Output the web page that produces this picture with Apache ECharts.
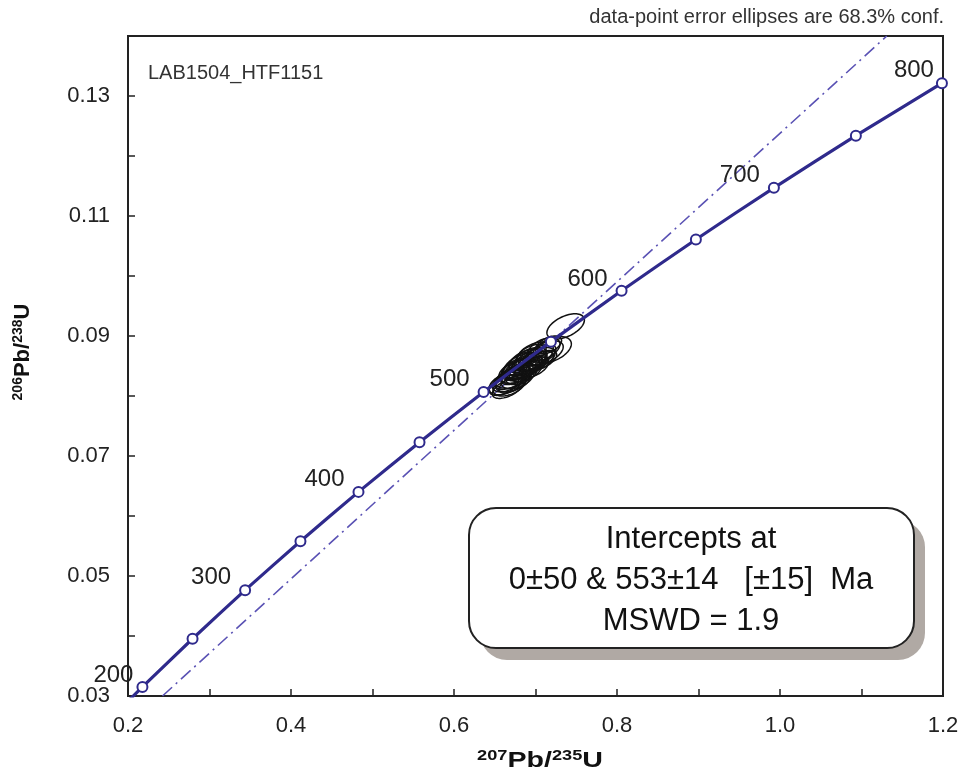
<!DOCTYPE html>
<html>
<head>
<meta charset="utf-8">
<script src="https://cdn.jsdelivr.net/npm/echarts@6/dist/echarts.min.js"></script>
<style>html,body{margin:0;padding:0;background:#fff;}#c{width:967px;height:783px;}</style>
</head>
<body>
<div id="c"></div>
<script>
// Concordia curve points (Ma, 207Pb/235U, 206Pb/238U)
const concordiaAges = [180, 200, 250, 300, 350, 400, 450, 500, 550, 600, 650, 700, 750, 800];
const concordiaX = [0.1940, 0.2177, 0.2792, 0.3437, 0.4116, 0.4828, 0.5577, 0.6363, 0.7189, 0.8056, 0.8968, 0.9925, 1.0931, 1.1987];
const concordiaY = [0.02832, 0.03151, 0.03954, 0.04764, 0.05579, 0.06402, 0.07229, 0.08065, 0.08906, 0.09754, 0.10609, 0.11470, 0.12338, 0.13213];
const labeledAges = [200, 300, 400, 500, 600, 700, 800];

// Discordia (dash-dot) line end points
const discordiaX = [0.2423, 1.1310];
const discordiaY = [0.0300, 0.1400];

// Error ellipses: centre x, centre y, half-width x, half-height y, correlation
const ellX = [0.737, 0.720, 0.712, 0.705, 0.700, 0.696, 0.692, 0.688, 0.685, 0.682, 0.679, 0.676, 0.673, 0.670, 0.667, 0.664, 0.661, 0.666, 0.690, 0.698, 0.708, 0.684, 0.675, 0.716, 0.695, 0.672,
              0.690, 0.685, 0.680, 0.694, 0.700, 0.678, 0.672, 0.668, 0.703, 0.688, 0.710, 0.676, 0.683, 0.698];
const ellY = [0.0916, 0.0877, 0.0872, 0.0868, 0.0862, 0.0858, 0.0854, 0.0850, 0.0846, 0.0842, 0.0838, 0.0835, 0.0831, 0.0828, 0.0825, 0.0821, 0.0818, 0.0813, 0.0845, 0.0852, 0.0860, 0.0858, 0.0845, 0.0885, 0.0870, 0.0820,
              0.0858, 0.0850, 0.0845, 0.0862, 0.0870, 0.0830, 0.0826, 0.0818, 0.0858, 0.0842, 0.0878, 0.0840, 0.0836, 0.0848];
const ellSx = [0.023, 0.024, 0.022, 0.020, 0.024, 0.018, 0.022, 0.020, 0.023, 0.019, 0.021, 0.018, 0.022, 0.019, 0.020, 0.021, 0.018, 0.019, 0.016, 0.017, 0.018, 0.017, 0.016, 0.016, 0.018, 0.017,
               0.022, 0.024, 0.022, 0.020, 0.022, 0.020, 0.022, 0.020, 0.019, 0.020, 0.020, 0.021, 0.019, 0.018];
const ellSy = [0.0021, 0.0022, 0.0020, 0.0018, 0.0019, 0.0017, 0.0018, 0.0017, 0.0018, 0.0016, 0.0017, 0.0016, 0.0018, 0.0017, 0.0018, 0.0019, 0.0017, 0.0017, 0.0014, 0.0015, 0.0016, 0.0015, 0.0015, 0.0015, 0.0016, 0.0015,
               0.0020, 0.0021, 0.0019, 0.0019, 0.0020, 0.0018, 0.0019, 0.0018, 0.0017, 0.0018, 0.0019, 0.0019, 0.0017, 0.0017];
const ellRho = [0.50, 0.45, 0.50, 0.55, 0.50, 0.60, 0.50, 0.55, 0.50, 0.60, 0.50, 0.55, 0.45, 0.55, 0.50, 0.45, 0.50, 0.55, 0.60, 0.60, 0.55, 0.50, 0.55, 0.50, 0.50, 0.60,
                0.40, 0.40, 0.45, 0.45, 0.40, 0.45, 0.40, 0.45, 0.50, 0.50, 0.45, 0.40, 0.50, 0.50];

// Axis settings
const xMin = 0.2, xMax = 1.2, xStep = 0.1;
const yMin = 0.03, yMax = 0.14, yStep = 0.01;

const sampleName = 'LAB1504_HTF1151';
const noteText = 'data-point error ellipses are 68.3% conf.';
const resultLines = ['Intercepts at', '0±50 & 553±14   [±15]  Ma', 'MSWD = 1.9'];

const FONT = 'Arial, "Liberation Sans", sans-serif';
const LINE = '#2f2a8c';

const labelOffsets = {200: [-3, -12], 300: [-8, -13], 400: [-8, -13], 500: [-8, -13], 600: [-8, -11], 700: [-8, -12], 800: [-2, -13]};

const concData = concordiaAges.map((a, i) => {
  const item = {value: [concordiaX[i], concordiaY[i]]};
  if (a < 200) { item.symbolSize = 0; }
  if (labeledAges.indexOf(a) >= 0) {
    item.label = {show: true, formatter: String(a), position: 'left', distance: 0,
      offset: labelOffsets[a], fontSize: 24, color: '#222', fontFamily: FONT};
  }
  return item;
});

const ellData = ellX.map((x, i) => [x, ellY[i], ellSx[i], ellSy[i], ellRho[i]]);

const chart = echarts.init(document.getElementById('c'));
chart.setOption({
  animation: false,
  backgroundColor: '#fff',
  grid: {left: 128, right: 24, top: 36, bottom: 87, containLabel: false, show: true, borderColor: '#222', borderWidth: 2},
  xAxis: {
    type: 'value', min: xMin, max: xMax, interval: xStep,
    axisLine: {show: true, lineStyle: {color: '#222', width: 2}},
    axisTick: {show: true, inside: true, length: 7, lineStyle: {color: '#222', width: 1.5}},
    splitLine: {show: false},
    axisLabel: {margin: 19, fontSize: 22, color: '#222', fontFamily: FONT,
      formatter: v => (Math.round(v * 10) % 2 === 0 ? v.toFixed(1) : '')}
  },
  yAxis: {
    type: 'value', min: yMin, max: yMax, interval: yStep,
    axisLine: {show: true, lineStyle: {color: '#222', width: 2}},
    axisTick: {show: true, inside: true, length: 7, lineStyle: {color: '#222', width: 1.5}},
    splitLine: {show: false},
    axisLabel: {margin: 18, fontSize: 22, color: '#222', fontFamily: FONT,
      formatter: v => (Math.round(v * 100) % 2 === 1 ? v.toFixed(2) : '')}
  },
  series: [
    {
      type: 'line', z: 2, silent: true, symbol: 'none',
      data: discordiaX.map((x, i) => [x, discordiaY[i]]),
      lineStyle: {color: '#5a52b4', width: 1.6, type: [13, 5, 2, 5]}
    },
    {
      type: 'custom', z: 3, silent: true,
      data: ellData,
      renderItem: function (params, api) {
        const cx = api.value(0), cy = api.value(1), sx = api.value(2), sy = api.value(3), r = api.value(4);
        const pts = [];
        const k = Math.sqrt(1 - r * r);
        for (let j = 0; j <= 72; j++) {
          const t = j / 72 * Math.PI * 2;
          pts.push(api.coord([cx + sx * Math.cos(t), cy + sy * (r * Math.cos(t) + k * Math.sin(t))]));
        }
        return {type: 'polygon', shape: {points: pts}, style: {fill: 'none', stroke: '#111', lineWidth: 1.5}};
      }
    },
    {
      type: 'line', z: 5, silent: true, smooth: 0.2,
      data: concData,
      symbol: 'circle', symbolSize: 10, showAllSymbol: true,
      itemStyle: {color: '#fff', borderColor: LINE, borderWidth: 2},
      lineStyle: {color: LINE, width: 3.2}
    }
  ],
  graphic: [
    {type: 'text', left: 148, top: 63, style: {text: sampleName, font: '20px ' + FONT, fill: '#333'}},
    {type: 'text', x: 944, y: 17, style: {text: noteText, font: '20px ' + FONT, fill: '#333', align: 'right', verticalAlign: 'middle'}},
    {type: 'rect', z: 10, shape: {x: 480, y: 520, width: 445, height: 140, r: 27}, style: {fill: '#b0a9a4'}},
    {type: 'rect', z: 11, shape: {x: 469, y: 508, width: 445, height: 140, r: 27}, style: {fill: '#fff', stroke: '#222', lineWidth: 2}},
    {type: 'text', z: 12, x: 691, y: 539, style: {text: resultLines[0], font: '31px ' + FONT, fill: '#111', align: 'center', verticalAlign: 'middle'}},
    {type: 'text', z: 12, x: 691, y: 580, style: {text: resultLines[1], font: '31px ' + FONT, fill: '#111', align: 'center', verticalAlign: 'middle'}},
    {type: 'text', z: 12, x: 691, y: 621, style: {text: resultLines[2], font: '31px ' + FONT, fill: '#111', align: 'center', verticalAlign: 'middle'}},
    {type: 'text', x: 540, y: 761, scaleX: 1.3, style: {
      text: '{s|207}{b|Pb/}{s|235}{b|U}', align: 'center', verticalAlign: 'middle', fill: '#111',
      rich: {s: {fontSize: 14, fontWeight: 'bold', fontFamily: FONT, verticalAlign: 'top', lineHeight: 14, fill: '#111'},
             b: {fontSize: 22, fontWeight: 'bold', fontFamily: FONT, lineHeight: 24, fill: '#111'}}}},
    {type: 'text', x: 23, y: 352, rotation: Math.PI / 2, style: {
      text: '{s|206}{b|Pb/}{s|238}{b|U}', align: 'center', verticalAlign: 'middle', fill: '#111',
      rich: {s: {fontSize: 14, fontWeight: 'bold', fontFamily: FONT, verticalAlign: 'top', lineHeight: 14, fill: '#111'},
             b: {fontSize: 22, fontWeight: 'bold', fontFamily: FONT, lineHeight: 24, fill: '#111'}}}}
  ]
});
</script>
</body>
</html>
